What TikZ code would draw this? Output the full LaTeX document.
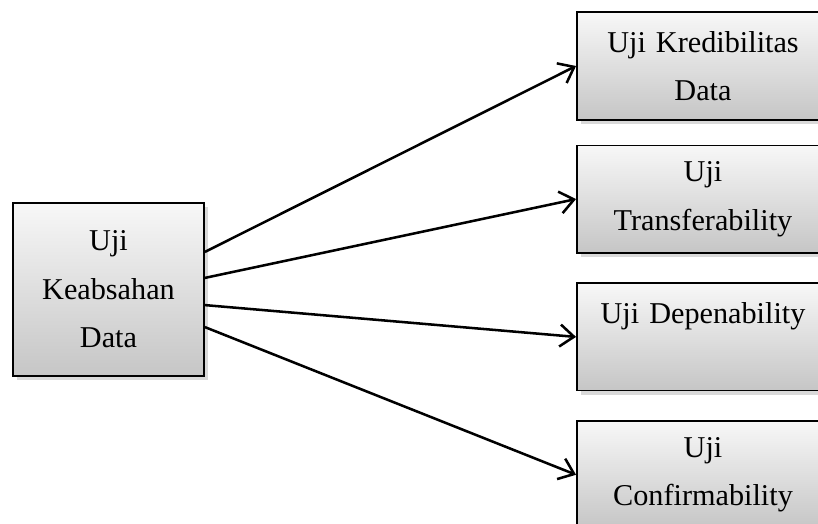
\documentclass[tikz,border=0pt]{standalone}
\usepackage{fontspec}
\setmainfont{Liberation Serif}
\usepackage{tikz}
\usetikzlibrary{arrows.meta, positioning, shadows}

\begin{document}
\begin{tikzpicture}[
    x=0.025cm, y=-0.025cm,
    % Box styles
    basebox/.style={draw, line width=1.3pt, font=\fontsize{21.5}{34.5}\selectfont, align=center,
        top color=gray!6, bottom color=gray!45,
        drop shadow={shadow xshift=1mm, shadow yshift=-1mm, opacity=0.3}},
    mainbox/.style={basebox, minimum width=4.775cm, minimum height=4.325cm, text width=4.5cm},
    testbox/.style={basebox, minimum width=6.3cm, minimum height=2.68cm, text width=6cm},
    % Connector style
    link/.style={-{Straight Barb[length=3.5mm, width=5.5mm]}, line width=1.8pt}
]

\useasboundingbox (0,0) rectangle (818,524);
\clip (0,0) rectangle (818,524);

% Source box on the left
\node[mainbox] (keabsahan_box) at (108.5,289.5) {Uji\\Keabsahan\\Data};

% Test boxes on the right
\node[testbox] (kredibilitas_box) at (703,66) {Uji Kredibilitas\\Data};
\node[testbox, below=0.6cm of kredibilitas_box] (transfer_box) {Uji\\Transferability};
\node[testbox, below=0.72cm of transfer_box] (depen_box) {Uji Depenability\\\mbox{}};
\node[testbox, below=0.72cm of depen_box] (confirm_box) {Uji\\Confirmability};

% Connections
\foreach \dy/\target in {0.94/kredibilitas_box, 0.29/transfer_box, -0.39/depen_box, -0.94/confirm_box} {
    \draw[link] ([yshift=\dy cm]keabsahan_box.east) -- (\target.west);
}

\end{tikzpicture}
\end{document}
